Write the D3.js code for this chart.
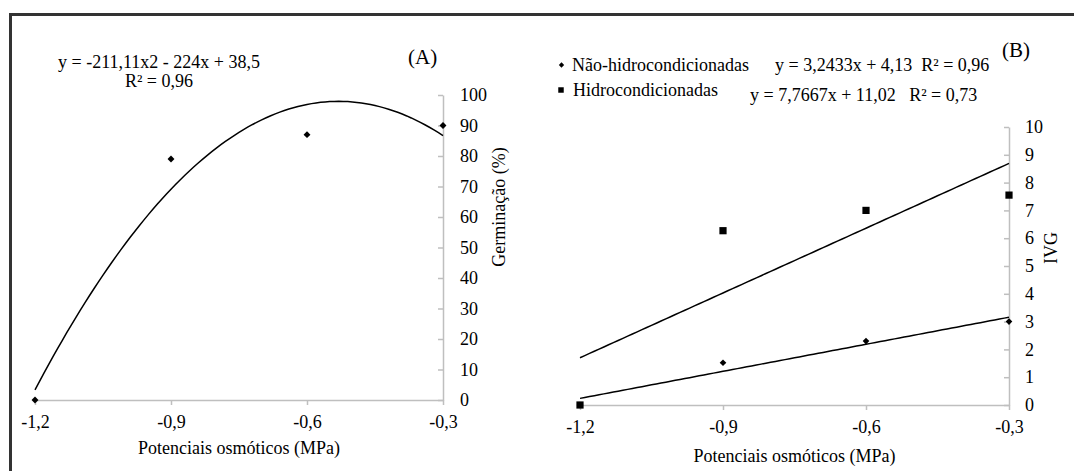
<!DOCTYPE html>
<html>
<head>
<script src="https://d3js.org/d3.v7.min.js" charset="utf-8"></script>
<style>
    body{margin:0;background:#fff;}
    svg{display:block;font-family:"Liberation Serif","Times New Roman",serif;}
    .axis path,.axis line{stroke:#bfbfbf;stroke-width:1.5;}
    .axis text{font-size:18px;fill:#000;font-family:"Liberation Serif",serif;}
</style>
</head>
<body>
<div id="chart"></div>
<script>
    // shared x categories (osmotic potentials)
    var potentials = [-1.2, -0.9, -0.6, -0.3]
    var xTicks = [-1.2, -0.9, -0.6, -0.3]

    // panel A: germination (%)
    var germination = [0, 79, 87, 90]
    var germTicks = [0,10,20,30,40,50,60,70,80,90,100]
    var germFit = [-211.11, -224, 38.5]   // a, b, c of ax2+bx+c
    var germEq = "y = -211,11x2 - 224x + 38,5"
    var germR2 = "R\u00b2 = 0,96"

    // panel B: IVG
    var ivgNao = [0, 1.52, 2.3, 3.0]
    var ivgHidro = [0, 6.27, 7.0, 7.55]
    var ivgTicks = [0,1,2,3,4,5,6,7,8,9,10]
    var naoFit = [3.2433, 4.13]
    var hidroFit = [7.7667, 11.02]
    var naoEq = "y = 3,2433x + 4,13  R\u00b2 = 0,96"
    var hidroEq = "y = 7,7667x + 11,02   R\u00b2 = 0,73"

    var width = 1074, height = 471

    var svg = d3.select("#chart").append("svg")
        .attr("width", width).attr("height", height)

    svg.append("rect").attr("width", width).attr("height", height).attr("fill", "#fff")
    svg.append("rect")
        .attr("x", 10.5).attr("y", 14.5)
        .attr("width", 1200).attr("height", 600)
        .attr("fill", "none").attr("stroke", "#333").attr("stroke-width", 3)

    var fmt = function(d){ return String(d).replace(".", ",") }
    var sampleX = d3.range(-1.2, -0.3 + 1e-9, 0.01)

    // ---------- panel A ----------
    var xA = d3.scaleLinear().domain([-1.2, -0.3]).range([35, 443])
    var yA = d3.scaleLinear().domain([0, 100]).range([400, 95])

    svg.append("g").attr("class", "axis")
        .attr("transform", "translate(0," + yA(0) + ")")
        .call(d3.axisBottom(xA).tickValues(xTicks).tickFormat(fmt).tickSize(5).tickSizeOuter(0).tickPadding(10))

    svg.append("g").attr("class", "axis")
        .attr("transform", "translate(" + xA(-0.3) + ",0)")
        .call(d3.axisRight(yA).tickValues(germTicks).tickSize(-5).tickSizeOuter(0).tickPadding(17))

    var quad = function(x){ return germFit[0]*x*x + germFit[1]*x + germFit[2] }
    svg.append("path")
        .datum(sampleX)
        .attr("fill", "none").attr("stroke", "#000").attr("stroke-width", 1.5)
        .attr("d", d3.line().x(function(d){return xA(d)}).y(function(d){return yA(quad(d))}))

    svg.selectAll(".ptA")
        .data(potentials)
        .enter().append("path")
        .attr("class", "ptA")
        .attr("d", d3.symbol().type(d3.symbolSquare).size(24))
        .attr("transform", function(d,i){ return "translate(" + xA(d) + "," + yA(germination[i]) + ") rotate(45)" })
        .attr("fill", "#000")

    svg.append("text").attr("x", 159).attr("y", 68).attr("text-anchor", "middle")
        .attr("font-size", 18).text(germEq)
    svg.append("text").attr("x", 159).attr("y", 87).attr("text-anchor", "middle")
        .attr("font-size", 18).text(germR2)
    svg.append("text").attr("x", 408).attr("y", 64).attr("font-size", 21).text("(A)")

    svg.append("text")
        .attr("transform", "translate(499,207) rotate(-90)")
        .attr("text-anchor", "middle").attr("dy", "0.35em")
        .attr("font-size", 18).text("Germinação (%)")

    svg.append("text").attr("x", (xA(-1.2)+xA(-0.3))/2).attr("y", 454)
        .attr("text-anchor", "middle").attr("font-size", 18).text("Potenciais osmóticos (MPa)")

    // ---------- panel B ----------
    var xB = d3.scaleLinear().domain([-1.2, -0.3]).range([580, 1009])
    var yB = d3.scaleLinear().domain([0, 10]).range([405, 127])

    svg.append("g").attr("class", "axis")
        .attr("transform", "translate(0," + yB(0) + ")")
        .call(d3.axisBottom(xB).tickValues(xTicks).tickFormat(fmt).tickSize(5).tickSizeOuter(0).tickPadding(10))

    svg.append("g").attr("class", "axis")
        .attr("transform", "translate(" + xB(-0.3) + ",0)")
        .call(d3.axisRight(yB).tickValues(ivgTicks).tickSize(-5).tickSizeOuter(0).tickPadding(16))

    var lineB = function(fit){
        return d3.line().x(function(d){return xB(d)}).y(function(d){return yB(fit[0]*d + fit[1])})
    }
    svg.append("path").datum(sampleX)
        .attr("fill", "none").attr("stroke", "#000").attr("stroke-width", 1.5)
        .attr("d", lineB(hidroFit))
    svg.append("path").datum(sampleX)
        .attr("fill", "none").attr("stroke", "#000").attr("stroke-width", 1.5)
        .attr("d", lineB(naoFit))

    svg.selectAll(".ptNao")
        .data(potentials)
        .enter().append("path")
        .attr("class", "ptNao")
        .attr("d", d3.symbol().type(d3.symbolSquare).size(22))
        .attr("transform", function(d,i){ return "translate(" + xB(d) + "," + yB(ivgNao[i]) + ") rotate(45)" })
        .attr("fill", "#000")

    svg.selectAll(".ptHidro")
        .data(potentials)
        .enter().append("path")
        .attr("class", "ptHidro")
        .attr("d", d3.symbol().type(d3.symbolSquare).size(52))
        .attr("transform", function(d,i){ return "translate(" + xB(d) + "," + yB(ivgHidro[i]) + ")" })
        .attr("fill", "#000")

    // legend + equations
    svg.append("path")
        .attr("d", d3.symbol().type(d3.symbolSquare).size(14))
        .attr("transform", "translate(561.5,65) rotate(45)").attr("fill", "#000")
    svg.append("text").attr("x", 572).attr("y", 71).attr("font-size", 18).text("Não-hidrocondicionadas")
    svg.append("text").attr("x", 775).attr("y", 71).attr("font-size", 18)
        .style("white-space", "pre").text(naoEq)

    svg.append("path")
        .attr("d", d3.symbol().type(d3.symbolSquare).size(30))
        .attr("transform", "translate(561,90)").attr("fill", "#000")
    svg.append("text").attr("x", 573).attr("y", 96).attr("font-size", 18).text("Hidrocondicionadas")
    svg.append("text").attr("x", 750).attr("y", 101).attr("font-size", 18)
        .style("white-space", "pre").text(hidroEq)

    svg.append("text").attr("x", 1002).attr("y", 57).attr("font-size", 21).text("(B)")

    svg.append("text")
        .attr("transform", "translate(1051,248) rotate(-90)")
        .attr("text-anchor", "middle").attr("dy", "0.35em")
        .attr("font-size", 18).text("IVG")

    svg.append("text").attr("x", (xB(-1.2)+xB(-0.3))/2).attr("y", 462)
        .attr("text-anchor", "middle").attr("font-size", 18).text("Potenciais osmóticos (MPa)")
</script>
</body>
</html>
